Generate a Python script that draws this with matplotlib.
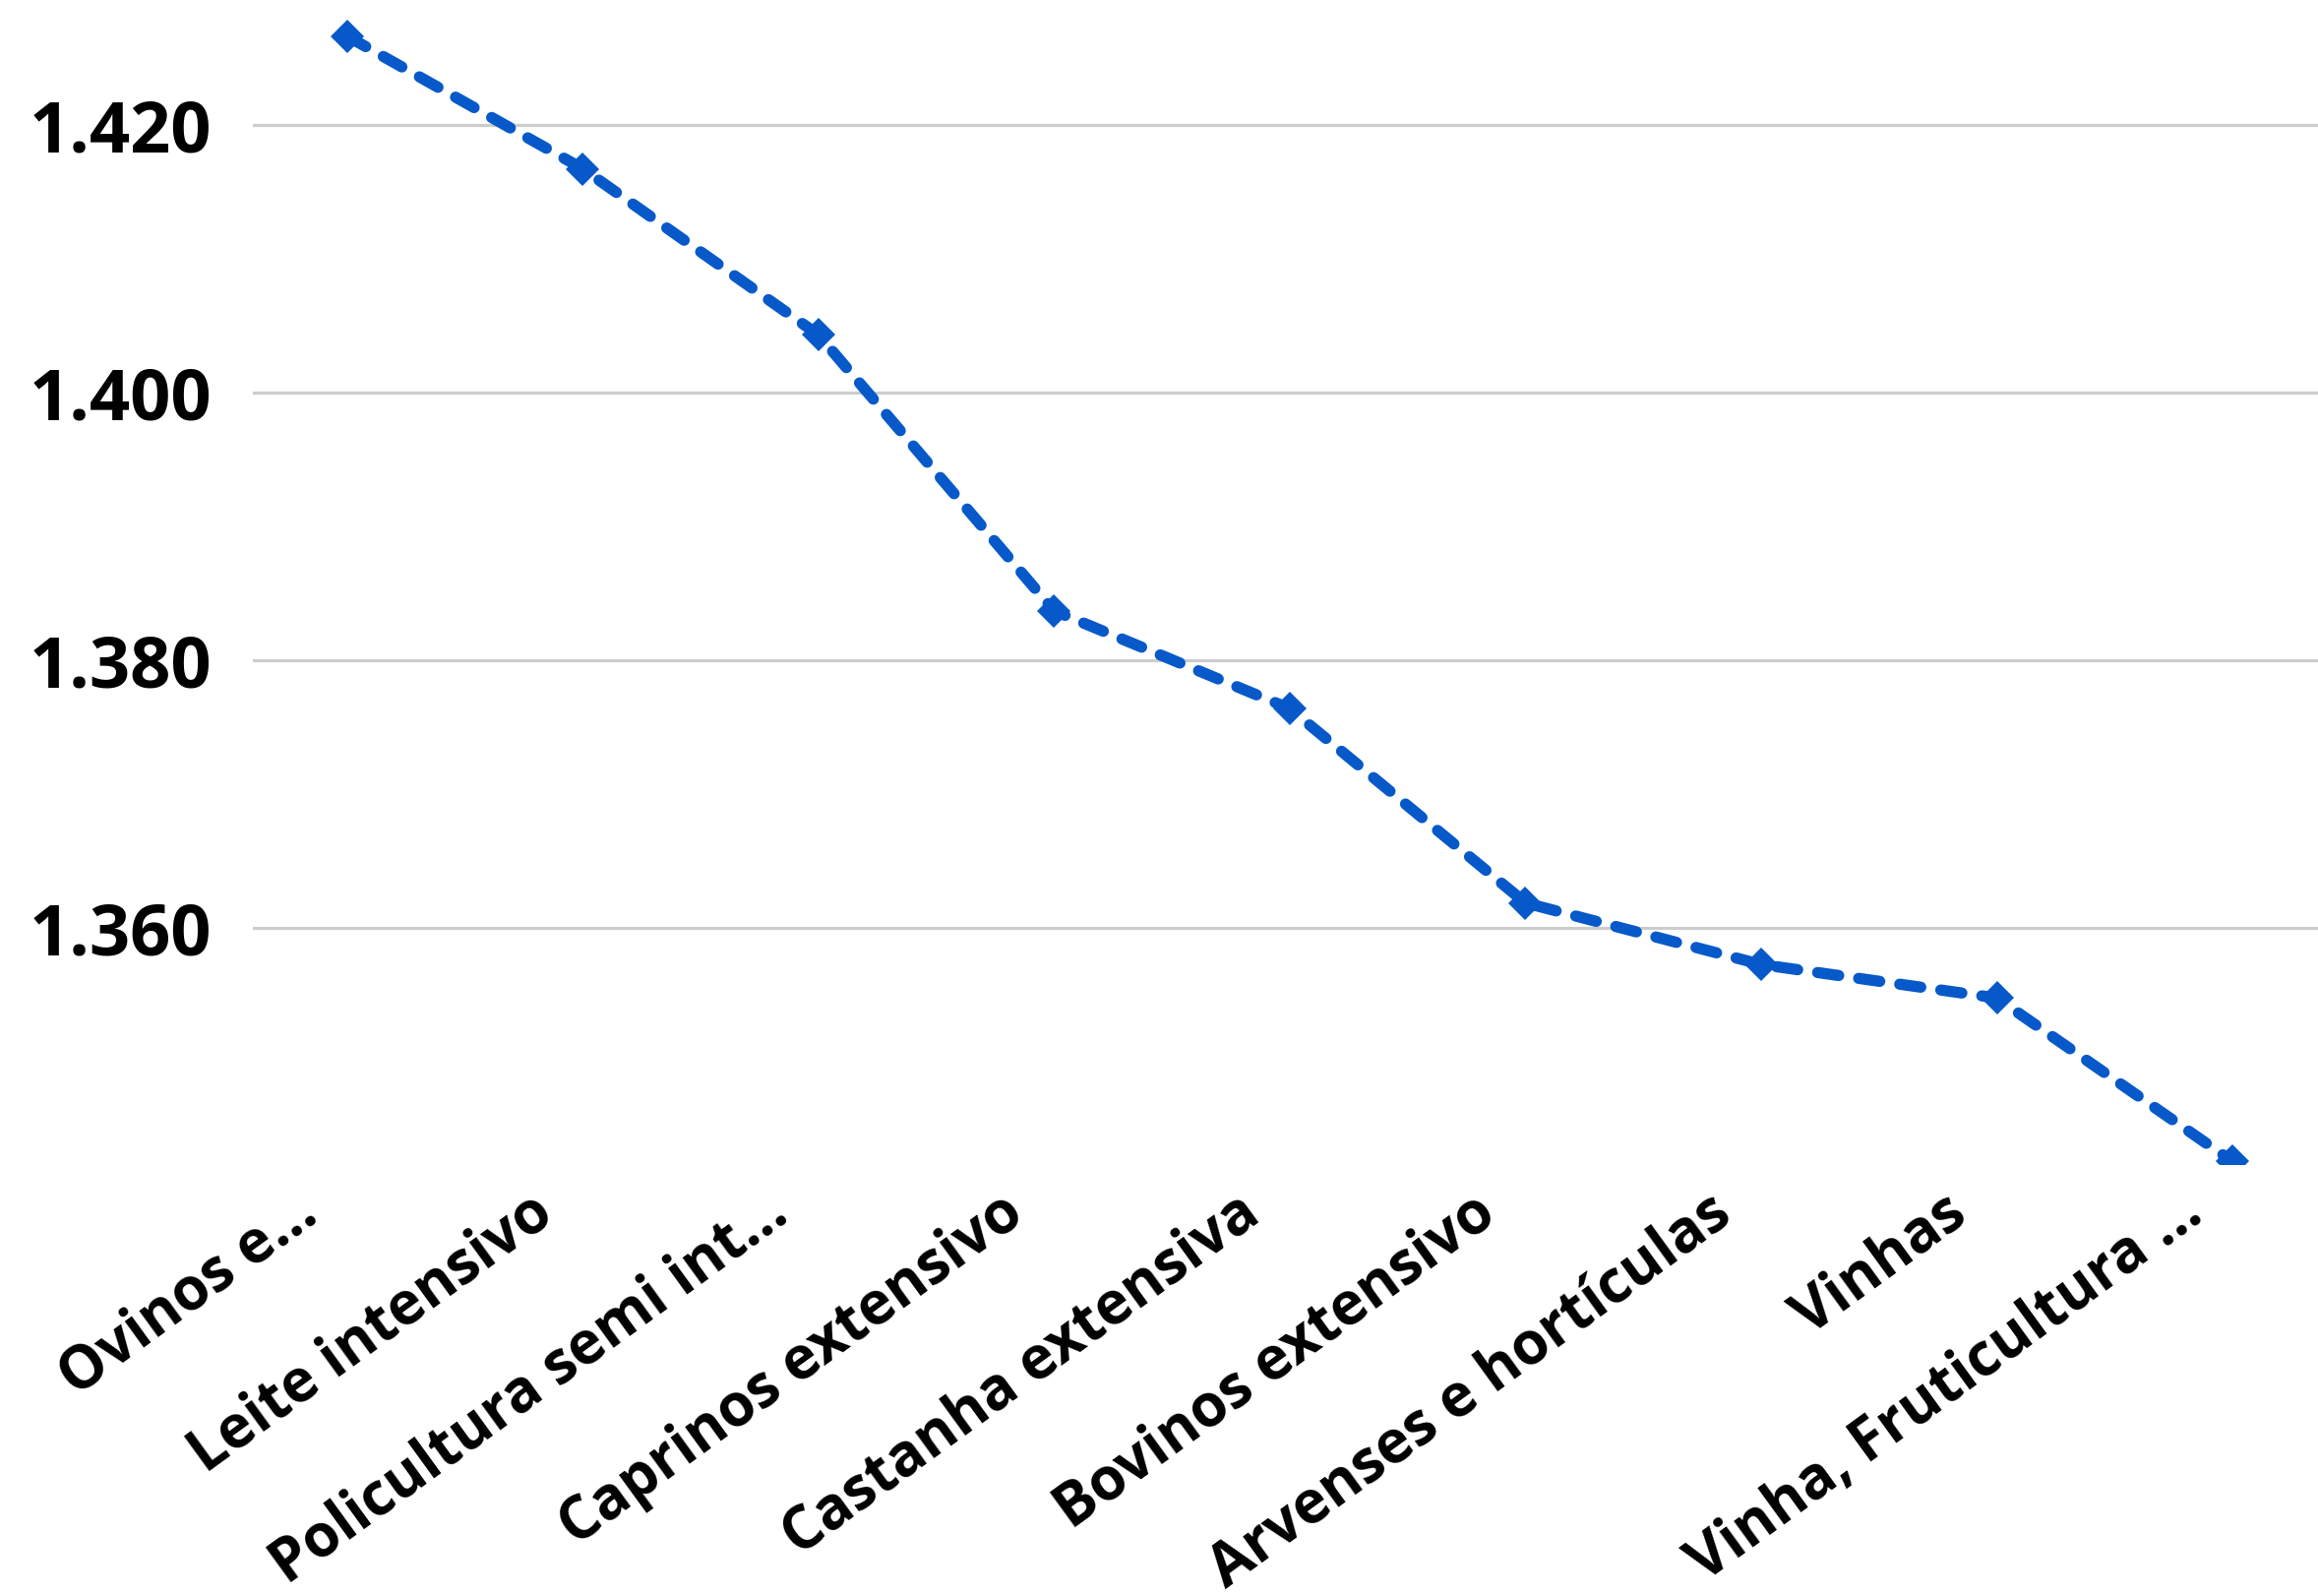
import matplotlib
matplotlib.use("Agg")
import matplotlib.pyplot as plt

plt.rcParams['font.family'] = ['Open Sans', 'DejaVu Sans']

# categories and values of the series
categories = ["Ovinos e…", "Leite intensivo", "Policultura semi int…",
              "Caprinos extensivo", "Castanha extensiva", "Bovinos extensivo",
              "Arvenses e hortículas", "Vinhas", "Vinha, Fruticultura …"]
values = [1.4266, 1.4167, 1.4043, 1.3837, 1.3764, 1.3619, 1.3573, 1.3548, 1.3426]
y_ticks = [1.360, 1.380, 1.400, 1.420]
y_tick_labels = ["1.360", "1.380", "1.400", "1.420"]

fig = plt.figure(figsize=(23.56, 16.22), dpi=100)
ax = fig.add_axes([0.1091, 0.2707, 0.8909, 0.7293])

x = list(range(len(categories)))
ax.plot(x, values, color='#0759C9', lw=8.2, linestyle=(0, (1.9, 1.8)),
        dash_capstyle='round', marker='D', markersize=17, markeredgewidth=0,
        zorder=3)

ax.set_xlim(-0.4, 8.363)
ax.set_ylim(1.34241, 1.4293)

ax.set_yticks(y_ticks)
ax.set_yticklabels(y_tick_labels, fontsize=52, fontweight='bold')
ax.tick_params(axis='y', length=0, pad=30)
ax.yaxis.grid(True, color='#CCCCCC', lw=2.3)
ax.set_axisbelow(True)

ax.set_xticks([])
for s in ax.spines.values():
    s.set_visible(False)

# rotated category labels, anchored at the end of the text
for i, lab in enumerate(categories):
    ax.annotate(lab, xy=(i, 0), xycoords=('data', 'axes fraction'),
                xytext=(-28, -56), textcoords='offset pixels',
                rotation=36, rotation_mode='anchor', ha='right', va='baseline',
                fontsize=43, fontweight='bold', annotation_clip=False)

fig.savefig('out.png', dpi=100)
